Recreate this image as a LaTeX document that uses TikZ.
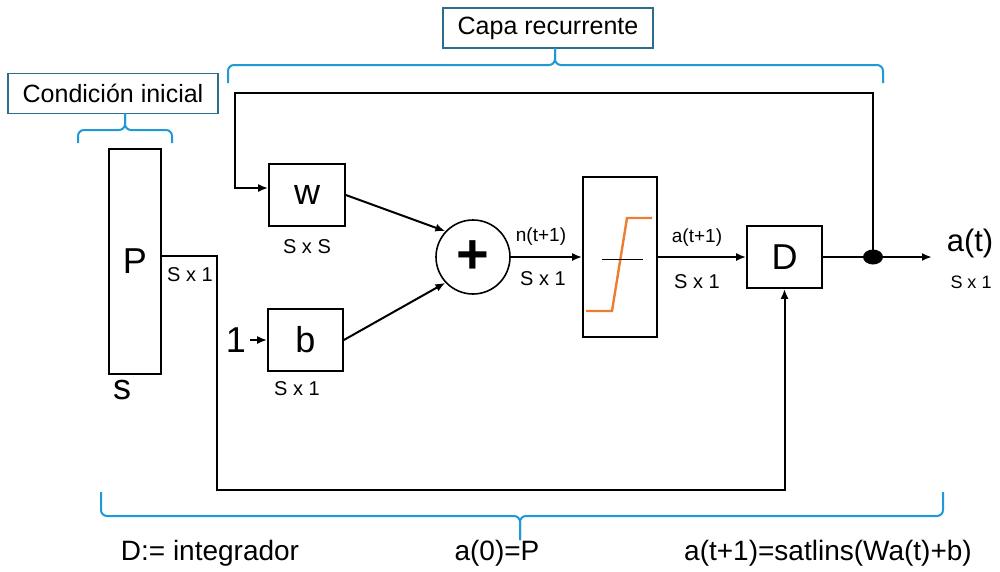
\documentclass[tikz,border=0pt]{standalone}
\usepackage{fontspec}
\setmainfont{Liberation Sans}
\usetikzlibrary{arrows.meta,shapes.geometric}
\definecolor{bracecol}{RGB}{30,155,215}
\definecolor{lblborder}{RGB}{46,110,140}
\definecolor{satcol}{RGB}{237,125,49}
\newcommand\myfs[1]{\fontsize{#1}{#1}\selectfont}
\begin{document}
\begin{tikzpicture}[x=1pt,y=-1pt,
  blk/.style={draw,line width=1.7pt,inner sep=0pt},
  lbl/.style={draw=lblborder,line width=1.4pt,minimum width=210pt,minimum height=40pt,inner sep=0pt,font=\myfs{25}},
  brc/.style={draw=bracecol,line width=2pt,rounded corners=6pt},
  wire/.style={line width=2pt},
  arr/.style={wire,-{Latex[length=10pt,width=8pt]}},
  big/.style={font=\myfs{36}},
  dim/.style={font=\myfs{20}},
  sig/.style={font=\myfs{19}},
  eq/.style={font=\myfs{28}}]
\useasboundingbox (0,0) rectangle (1000,571);

% labels and braces
\node[lbl] (ci) at (113,93.5) {Condición inicial};
\node[lbl] (cr) at (548,28) {Capa recurrente};
\draw[brc] (78,143) -- (78,130) -- (125,130) -- (125,113);
\draw[brc] (172,143) -- (172,130) -- (125,130) -- (125,113);
\draw[brc] (228,83) -- (228,65) -- (555,65) -- (555,48);
\draw[brc] (883,83) -- (883,65) -- (555,65) -- (555,48);
\draw[brc] (101,492) -- (101,516) -- (520,516) -- (520,540);
\draw[brc] (943,492) -- (943,516) -- (520,516) -- (520,540);

% blocks
\node[blk,big,minimum width=52pt,minimum height=225pt] (P) at (135,261.5) {P};
\node[dim] (pdim) at (190,275) {S x 1};
\node[big] (s) at (122,390) {s};
\node[blk,big,minimum width=76pt,minimum height=62pt] (w) at (307,195) {w};
\node[dim] (wdim) at (307,247) {S x S};
\node[blk,big,minimum width=75pt,minimum height=62pt] (b) at (305.5,340) {b};
\node[dim] (bdim) at (297,389) {S x 1};
\node[big] (one) at (236,340) {1};
\node[draw,circle,line width=1.6pt,minimum size=74pt,inner sep=0pt,font=\myfs{56}\bfseries] (sum) at (473,257) {+};
\node[blk,minimum width=74pt,minimum height=160pt] (tf) at (620,257) {};
\node[blk,big,minimum width=75pt,minimum height=62pt] (D) at (784.5,257) {D};
\node[fill,ellipse,minimum width=20pt,minimum height=15pt,inner sep=0pt] (dot) at (873,257) {};
\coordinate (out) at (932,257);
\node[font=\myfs{31}] (at) at (970,243) {a(t)};
\node[font=\myfs{18}] (atdim) at (971,282) {S x 1};
\node[sig] (n) at (541,237) {n(t+1)};
\node[dim] (ndim) at (543,279) {S x 1};
\node[sig] (a1) at (697,238) {a(t+1)};
\node[dim] (a1dim) at (697,282) {S x 1};

% saturating linear function
\draw[satcol,line width=2.4pt] (586,311) -- (612,311) -- (627,218) -- (652,218);
\draw[line width=0.8pt] (602,259) -- (643,259);

% bottom equations
\node[eq] (deq) at (210,553) {D:= integrador};
\node[eq] (a0) at (497,553) {a(0)=P};
\node[eq] (rec) at (828,553) {a(t+1)=satlins(Wa(t)+b)};

% connectors
\coordinate (pc1) at (217,256);
\coordinate (pc2) at (217,490);
\draw[arr] (P.east |- pc1) -- (pc1) -- (pc2) -| (D.south);
\coordinate (fb1) at (873,93);
\coordinate (fb2) at (235,93);
\coordinate (fb3) at (235,188);
\draw[arr] (dot.center) -- (fb1) -- (fb2) -- (fb3) -- (w.west |- fb3);
\draw[arr] (one.east) -- (b.west);
\draw[arr] (w.east) -- (sum.137);
\draw[arr] (b.east) -- (sum.223);
\draw[arr] (sum.east) -- (tf.west);
\draw[arr] (tf.east) -- (D.west);
\draw[wire] (D.east) -- (dot);
\draw[arr] (dot) -- (out);
\end{tikzpicture}
\end{document}
